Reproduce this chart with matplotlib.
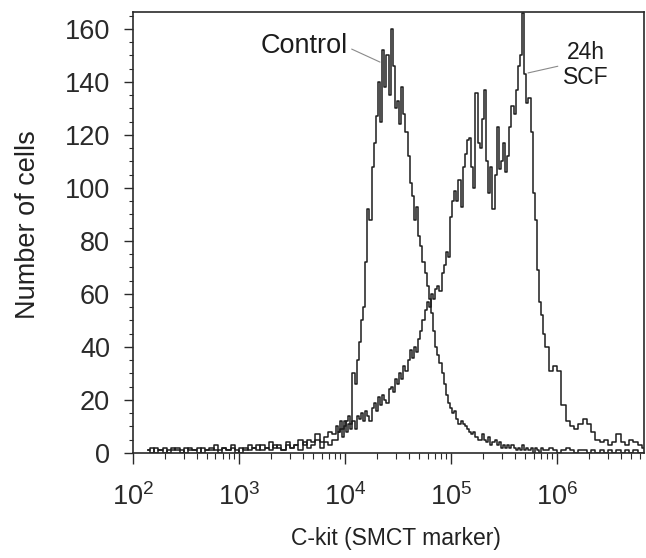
import numpy as np
import matplotlib
matplotlib.use("Agg")
import matplotlib.pyplot as plt
from matplotlib.ticker import LogLocator, LogFormatterSciNotation, MultipleLocator, NullFormatter

plt.rcParams['font.family'] = ['Liberation Sans', 'DejaVu Sans']
plt.rcParams['mathtext.fontset'] = 'custom'
plt.rcParams['mathtext.rm'] = 'Liberation Sans'
plt.rcParams['mathtext.it'] = 'Liberation Sans:italic'
plt.rcParams['mathtext.bf'] = 'Liberation Sans:bold'

# ---- data: histogram channels (log10 of C-kit fluorescence) and cell counts ----
log_bins_low = np.linspace(2.14, 3.90, 45)
log_bins_mid = np.linspace(3.92, 5.90, 100)
log_bins_high = np.linspace(5.94, 6.82, 23)

control_low = [1, 0, 2, 1, 0, 1, 2, 1, 0, 2, 1, 1, 2, 0, 1, 2, 1, 0, 2, 1, 3, 1, 0,
               2, 1, 2, 3, 1, 2, 1, 3, 2, 1, 3, 2, 3, 1, 4, 2, 3, 5, 2, 4, 3, 5]
control_mid = [5, 8, 9, 6, 10, 12, 14, 11, 30, 26,
               35, 42, 50, 55, 72, 92, 88, 108, 117, 127,
               140, 125, 152, 138, 150, 135, 160, 146, 130, 133,
               124, 138, 128, 121, 112, 102, 97, 88, 93, 82,
               78, 72, 68, 63, 58, 53, 46, 40, 37, 34,
               30, 26, 22, 19, 17, 15, 16, 13, 11, 12,
               11, 10, 9, 8, 7, 8, 6, 5, 5, 7,
               5, 4, 6, 3, 4, 5, 3, 4, 2, 3,
               2, 3, 2, 3, 2, 1, 2, 1, 3, 1,
               2, 1, 2, 0, 2, 1, 0, 2, 1, 1]
control_high = [2, 1, 0, 1, 2, 1, 0, 1, 1, 0, 1, 0, 1, 0, 1, 0, 1, 0, 1, 0, 1, 0, 0]

scf_low = [1, 2, 0, 1, 2, 0, 1, 2, 1, 0, 2, 1, 0, 2, 1, 1, 3, 1, 2, 1, 2, 0, 2,
           1, 3, 2, 1, 3, 2, 4, 2, 3, 1, 4, 2, 3, 5, 3, 5, 4, 7, 4, 6, 8, 7]
scf_mid = [10, 8, 12, 9, 12, 8, 11, 9, 12, 9,
           14, 13, 15, 12, 16, 14, 12, 17, 19, 16,
           21, 18, 22, 20, 19, 24, 25, 23, 28, 26,
           30, 28, 33, 31, 35, 39, 36, 40, 38, 43,
           46, 50, 54, 57, 55, 60, 58, 62, 63, 61,
           68, 71, 76, 74, 89, 95, 99, 95, 103, 93,
           108, 113, 118, 119, 108, 100, 136, 117, 115, 126,
           137, 110, 98, 108, 92, 105, 123, 107, 110, 117,
           106, 112, 123, 131, 128, 137, 146, 150, 166, 143,
           132, 134, 121, 98, 88, 69, 57, 52, 45, 40]
scf_high = [31, 33, 31, 18, 12, 10, 9, 11, 13, 11, 8, 5, 4, 5, 3, 4, 7, 4, 3, 5, 4, 3, 2]

x_tick_exponents = [2, 3, 4, 5, 6]
y_ticks = [0, 20, 40, 60, 80, 100, 120, 140, 160]

log_bins = np.concatenate([log_bins_low, log_bins_mid, log_bins_high])
intensity = 10.0 ** log_bins
control = np.array(control_low + control_mid + control_high, dtype=float)
scf = np.array(scf_low + scf_mid + scf_high, dtype=float)

# ---- figure ----
fig = plt.figure(figsize=(6.46, 5.58), dpi=100)
ax = fig.add_axes([133/646, 1 - 453/558, 511/646, 441/558])

line_color = '#1c1c1c'
ax.plot(intensity, control, color=line_color, lw=1.1, drawstyle='steps-mid')
ax.plot(intensity, scf, color=line_color, lw=1.1, drawstyle='steps-mid')

ax.set_xscale('log')
ax.set_xlim(10**2, 10**6.82)
ax.set_ylim(0, 166.4)

ax.set_xticks([10.0**e for e in x_tick_exponents])
ax.xaxis.set_major_formatter(LogFormatterSciNotation())
ax.xaxis.set_minor_locator(LogLocator(base=10, subs=np.arange(2, 10), numticks=20))
ax.xaxis.set_minor_formatter(NullFormatter())
ax.set_yticks(y_ticks)
ax.yaxis.set_minor_locator(MultipleLocator(5))

tick_color = '#2a2a2a'
ax.tick_params(axis='y', which='major', direction='out', length=6.5, width=1.0,
               pad=10, labelsize=19.5, colors=tick_color)
ax.tick_params(axis='y', which='minor', direction='out', length=3, width=0.8, colors=tick_color)
ax.tick_params(axis='x', which='major', direction='out', length=8, width=1.0,
               pad=14, labelsize=19.5, colors=tick_color)
ax.tick_params(axis='x', which='minor', direction='out', length=4, width=0.8, colors=tick_color)

for s in ax.spines.values():
    s.set_linewidth(1.2)
    s.set_color('#2a2a2a')

ax.set_xlabel('C-kit (SMCT marker)', fontsize=16.5, color='#222222')
ax.xaxis.set_label_coords((396 - 133) / 511, -(538 - 453) / 441)
ax.xaxis.label.set_va('center')
ax.set_ylabel('Number of cells', fontsize=19.5, color='#222222')
ax.yaxis.set_label_coords((28 - 133) / 511, (453 - 225) / 441)
ax.yaxis.label.set_va('center')

ax.annotate('Control', xy=(10**4.33, 147.5), xytext=(10**3.613, 153.6),
            ha='center', va='center', fontsize=19.5, color='#1c1c1c',
            arrowprops=dict(arrowstyle='-', color='#8a8a8a', lw=0.8,
                            relpos=(1.0, 0.45), shrinkA=1, shrinkB=0))
ax.annotate('24h\nSCF', xy=(10**5.726, 143.4), xytext=(10**6.274, 146.4),
            ha='center', va='center', fontsize=16.5, color='#1c1c1c',
            linespacing=1.15, multialignment='center',
            arrowprops=dict(arrowstyle='-', color='#8a8a8a', lw=0.8,
                            relpos=(0.0, 0.5), shrinkA=2, shrinkB=0))

fig.savefig('out.png', dpi=100, facecolor='white')
